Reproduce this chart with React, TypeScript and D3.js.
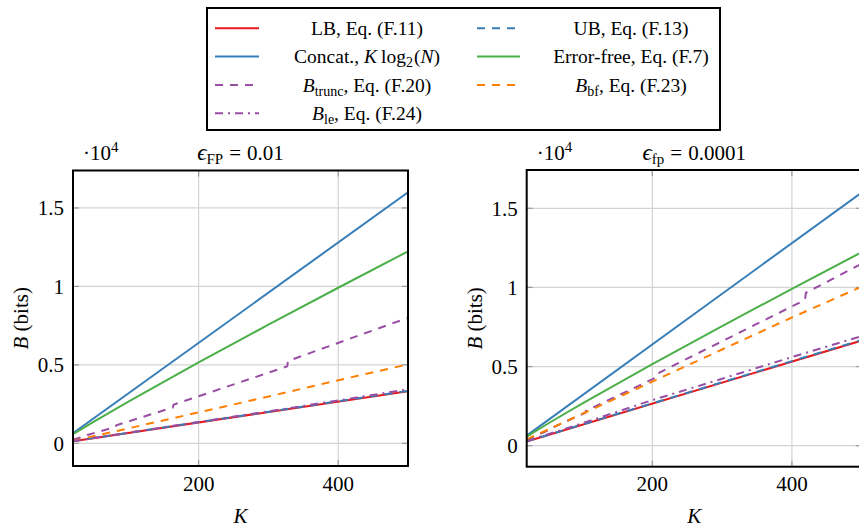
import React from 'react';
import * as d3 from 'd3';

// ---------- data (bits) ----------
const K_ENDS = [20, 500];
const CONCAT_BITS = [640, 16000];
const ERRFREE_K = [20, 50, 100, 200, 300, 400, 500];
const ERRFREE_BITS = [579, 1386, 2675, 5155, 7559, 9914, 12233];

// left panel: eps_FP = 0.01
const LB_A = [133, 3322];
const UB_A = [140, 3345];
const TRUNC_K_A = [20, 21, 40, 41, 81, 82, 163, 164, 327, 328, 500];
const TRUNC_BITS_A = [220, 252, 480, 533, 1053, 1148, 2282, 2460, 4905, 5248, 8000];
const BF_K_A = [20, 100, 200, 300, 400, 500];
const BF_BITS_A = [150, 960, 1970, 2980, 4020, 5030];
const LE_K_A = [20, 100, 200, 300, 400, 500];
const LE_BITS_A = [140, 680, 1360, 2040, 2730, 3440];

// right panel: eps_fp = 0.0001
const LB_B = [266, 6644];
const UB_B = [272, 6680];
const TRUNC_K_B = [20, 26, 27, 52, 53, 104, 105, 209, 210, 419, 420, 500];
const TRUNC_BITS_B = [360, 468, 513, 988, 1060, 2080, 2205, 4389, 4620, 9218, 9660, 11500];
const BF_K_B = [20, 100, 200, 300, 400, 500];
const BF_BITS_B = [400, 2020, 4050, 6080, 8100, 10050];
const LE_K_B = [20, 100, 200, 300, 400, 500];
const LE_BITS_B = [300, 1420, 2880, 4230, 5600, 6930];

const X_TICKS = [200, 400];
const Y_TICKS = [0, 5000, 10000, 15000];
const Y_TICK_LABELS = ['0', '0.5', '1', '1.5'];

const RED = '#e41a1c';
const BLUE = '#377eb8';
const GREEN = '#4daf4a';
const PURPLE = '#984ea3';
const ORANGE = '#ff7f00';
const DASH = '8,7';
const DASHDOT = '8,5,2,5';

const FONT = "'Liberation Serif', 'DejaVu Serif', serif";
const TICK_FS = 21;

type Series = { k: number[]; v: number[]; color: string; dash?: string };

function buildSeries(lb: number[], ub: number[], tk: number[], tb: number[], bk: number[], bb: number[], lk: number[], lv: number[]): Series[] {
  return [
    { k: K_ENDS, v: lb, color: RED },
    { k: K_ENDS, v: ub, color: BLUE, dash: DASH },
    { k: K_ENDS, v: CONCAT_BITS, color: BLUE },
    { k: ERRFREE_K, v: ERRFREE_BITS, color: GREEN },
    { k: tk, v: tb, color: PURPLE, dash: DASH },
    { k: bk, v: bb, color: ORANGE, dash: DASH },
    { k: lk, v: lv, color: PURPLE, dash: DASHDOT },
  ];
}

const SERIES_A = buildSeries(LB_A, UB_A, TRUNC_K_A, TRUNC_BITS_A, BF_K_A, BF_BITS_A, LE_K_A, LE_BITS_A);
const SERIES_B = buildSeries(LB_B, UB_B, TRUNC_K_B, TRUNC_BITS_B, BF_K_B, BF_BITS_B, LE_K_B, LE_BITS_B);

type PanelProps = {
  id: string;
  x0: number; x1: number; y0: number; y1: number;
  yMin: number; yMax: number;
  series: Series[];
  sub: string;
  val: string;
};

function Panel({ id, x0, x1, y0, y1, yMin, yMax, series, sub, val }: PanelProps) {
  const x = d3.scaleLinear().domain([20, 500]).range([x0, x1]);
  const y = d3.scaleLinear().domain([yMin, yMax]).range([y1, y0]);
  const line = d3.line<[number, number]>().x(d => x(d[0])).y(d => y(d[1]));
  const cx = (x0 + x1) / 2;
  const cy = (y0 + y1) / 2;
  const tickLen = 6;
  return (
    <g>
      <defs>
        <clipPath id={id}>
          <rect x={x0} y={y0} width={x1 - x0} height={y1 - y0} />
        </clipPath>
      </defs>
      {X_TICKS.map(t => (
        <line key={'gx' + t} x1={x(t)} x2={x(t)} y1={y0} y2={y1} stroke="#d4d4d4" strokeWidth={1.2} />
      ))}
      {Y_TICKS.map(t => (
        <line key={'gy' + t} x1={x0} x2={x1} y1={y(t)} y2={y(t)} stroke="#d4d4d4" strokeWidth={1.2} />
      ))}
      {X_TICKS.map(t => (
        <g key={'tx' + t} stroke="#9a9a9a" strokeWidth={1.2}>
          <line x1={x(t)} x2={x(t)} y1={y1} y2={y1 - tickLen} />
          <line x1={x(t)} x2={x(t)} y1={y0} y2={y0 + tickLen} />
        </g>
      ))}
      {Y_TICKS.map(t => (
        <g key={'ty' + t} stroke="#9a9a9a" strokeWidth={1.2}>
          <line x1={x0} x2={x0 + tickLen} y1={y(t)} y2={y(t)} />
          <line x1={x1} x2={x1 - tickLen} y1={y(t)} y2={y(t)} />
        </g>
      ))}
      <g clipPath={`url(#${id})`}>
        {series.map((s, i) => (
          <path
            key={i}
            d={line(s.k.map((kk, j) => [kk, s.v[j]] as [number, number])) || ''}
            fill="none"
            stroke={s.color}
            strokeWidth={2}
            strokeDasharray={s.dash}
          />
        ))}
      </g>
      <rect x={x0} y={y0} width={x1 - x0} height={y1 - y0} fill="none" stroke="#000" strokeWidth={2} />
      {X_TICKS.map(t => (
        <text key={'lx' + t} x={x(t)} y={491} textAnchor="middle" fontSize={TICK_FS} fontFamily={FONT}>{t}</text>
      ))}
      {Y_TICKS.map((t, i) => (
        <text key={'ly' + t} x={x0 - 9} y={y(t) + 7.5} textAnchor="end" fontSize={TICK_FS} fontFamily={FONT}>{Y_TICK_LABELS[i]}</text>
      ))}
      <text x={cx} y={523} textAnchor="middle" fontSize={TICK_FS} fontFamily={FONT} fontStyle="italic">K</text>
      <text transform={`translate(${x0 - 45},${cy}) rotate(-90)`} textAnchor="middle" fontSize={TICK_FS} fontFamily={FONT}>
        <tspan fontStyle="italic">B</tspan> (bits)
      </text>
      <text x={x0 + 10} y={160} fontSize={TICK_FS} fontFamily={FONT}>
        ·10<tspan fontSize={15} dy={-8}>4</tspan>
      </text>
      <text x={cx} y={160} textAnchor="middle" fontSize={TICK_FS} fontFamily={FONT}>
        <tspan fontStyle="italic" fontSize={23}>ϵ</tspan>
        <tspan fontSize={15} dy={4}>{sub}</tspan>
        <tspan dy={-4} dx={6}>=</tspan>
        <tspan dx={6}>{val}</tspan>
      </text>
    </g>
  );
}

function Legend() {
  const bx0 = 207, by0 = 8, bx1 = 720, by1 = 130;
  const rows = [28.3, 56.6, 84.9, 113.2];
  const c1Line = [215, 259];
  const c2Line = [477, 520];
  const c1Text = 367;
  const c2Text = 631;
  const fs = 19.5;
  const sfs = 14;
  const sample = (lx: number[], ly: number, color: string, dash?: string) => (
    <line x1={lx[0]} x2={lx[1]} y1={ly} y2={ly} stroke={color} strokeWidth={2} strokeDasharray={dash} />
  );
  const ty = (r: number) => r + 6.8;
  return (
    <g fontFamily={FONT} fontSize={fs}>
      <rect x={bx0} y={by0} width={bx1 - bx0} height={by1 - by0} fill="#fff" stroke="#000" strokeWidth={2} />
      {sample(c1Line, rows[0], RED)}
      <text x={c1Text} y={ty(rows[0])} textAnchor="middle">LB, Eq. (F.11)</text>
      {sample(c2Line, rows[0], BLUE, DASH)}
      <text x={c2Text} y={ty(rows[0])} textAnchor="middle">UB, Eq. (F.13)</text>

      {sample(c1Line, rows[1], BLUE)}
      <text x={c1Text} y={ty(rows[1])} textAnchor="middle">
        Concat., <tspan fontStyle="italic">K</tspan><tspan dx={4}>log</tspan><tspan fontSize={sfs} dy={4}>2</tspan><tspan dy={-4} dx={1}>(</tspan><tspan fontStyle="italic">N</tspan>)
      </text>
      {sample(c2Line, rows[1], GREEN)}
      <text x={c2Text} y={ty(rows[1])} textAnchor="middle">Error-free, Eq. (F.7)</text>

      {sample(c1Line, rows[2], PURPLE, DASH)}
      <text x={c1Text} y={ty(rows[2])} textAnchor="middle">
        <tspan fontStyle="italic">B</tspan><tspan fontSize={sfs} dy={4}>trunc</tspan><tspan dy={-4}>, Eq. (F.20)</tspan>
      </text>
      {sample(c2Line, rows[2], ORANGE, DASH)}
      <text x={c2Text} y={ty(rows[2])} textAnchor="middle">
        <tspan fontStyle="italic">B</tspan><tspan fontSize={sfs} dy={4}>bf</tspan><tspan dy={-4}>, Eq. (F.23)</tspan>
      </text>

      {sample(c1Line, rows[3], PURPLE, DASHDOT)}
      <text x={c1Text} y={ty(rows[3])} textAnchor="middle">
        <tspan fontStyle="italic">B</tspan><tspan fontSize={sfs} dy={4}>le</tspan><tspan dy={-4}>, Eq. (F.24)</tspan>
      </text>
    </g>
  );
}

export default function App() {
  return (
    <svg width={859} height={527} viewBox="0 0 859 527" style={{ position: 'absolute', left: 0, top: 0, background: '#fff' }}>
      <rect x={0} y={0} width={859} height={527} fill="#fff" />
      <Panel id="clipA" x0={73} x1={408} y0={170.5} y1={466} yMin={-1447} yMax={17387} series={SERIES_A} sub="FP" val="0.01" />
      <Panel id="clipB" x0={526.7} x1={861.7} y0={170} y1={466.7} yMin={-1327} yMax={17420} series={SERIES_B} sub="fp" val="0.0001" />
      <Legend />
    </svg>
  );
}
